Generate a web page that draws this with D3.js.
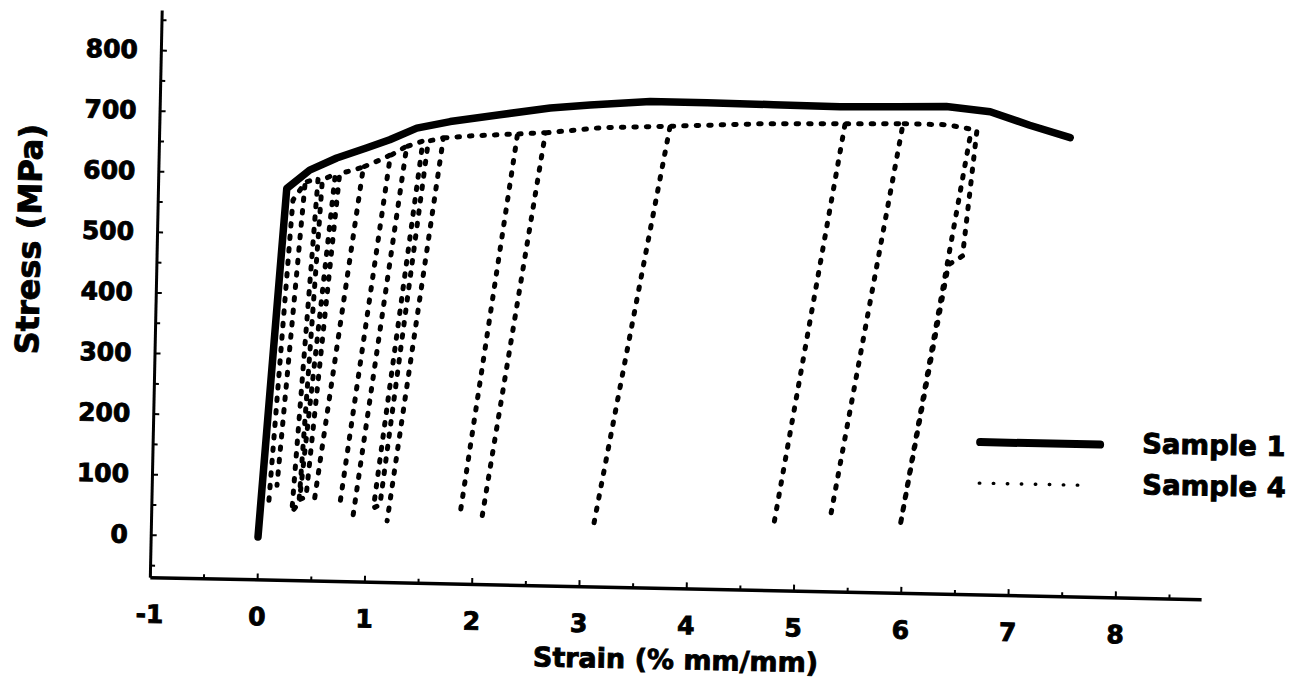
<!DOCTYPE html>
<html>
<head>
<meta charset="utf-8">
<script src="https://cdn.jsdelivr.net/npm/d3@7"></script>
<style>
  html, body { margin: 0; padding: 0; background: #fff; }
  svg { display: block; }
  text { font-family: "DejaVu Sans", "Liberation Sans", Arial, sans-serif; font-weight: bold; fill: #000; stroke: #000; stroke-width: 0.9px; }
</style>
</head>
<body>
<svg id="chart" width="1311" height="689"></svg>
<script>
// ---------------- data ----------------
const sample1Strain = [0, 0.20, 0.41, 0.66, 0.94, 1.15, 1.40, 1.71, 2.17, 2.64, 3.01, 3.57, 4.10, 4.72, 5.34, 5.87, 6.33, 6.74, 7.11, 7.49];
const sample1Stress = [0, 576, 607, 628, 646, 660, 680, 692, 705, 718, 724, 732, 732, 731, 730, 732, 734, 727, 706, 687];

// cyclic test: loading envelope with unload / reload loops (path order)
const sample4Strain = [0.095, 0.26, 0.37, 0.167, 0.39, 0.49, 0.31, 0.375, 0.53, 0.65, 0.38, 0.44, 0.69, 0.91, 0.52, 0.92,
  1.06, 1.16, 0.76, 1.17, 1.31, 0.88, 1.32, 1.46, 1.07, 1.13, 1.51, 1.65, 1.20, 1.66, 1.90, 2.34, 1.88, 2.35, 2.60, 2.08,
  2.61, 3.11, 3.76, 3.12, 3.77, 4.60, 5.39, 4.80, 5.40, 5.93, 5.33, 5.94, 6.34, 6.62, 6.51, 6.38, 5.98, 6.56];
const sample4Stress = [61, 557, 586, 86, 588, 594, 42, 58, 591, 602, 63, 68, 602, 614, 65, 615,
  626, 635, 62, 635, 650, 36, 650, 659, 52, 57, 659, 665, 31, 665, 669, 674, 47, 674, 677, 36,
  677, 687, 692, 26, 692, 699, 702, 34, 702, 704, 53, 704, 704, 696, 488, 473, 39, 688];

const seriesNames = ["Sample 1", "Sample 4"];
const xTickLabels = [-1, 0, 1, 2, 3, 4, 5, 6, 7, 8];
const xMinorTicks = [-0.5, 0.5, 1.5, 2.5, 3.5, 4.5, 5.5, 6.5, 7.5, 8.5];
const yTickLabels = [0, 100, 200, 300, 400, 500, 600, 700, 800];
const yMinorTicks = [-50, 50, 150, 250, 350, 450, 550, 650, 750, 850];
const xTitle = "Strain (% mm/mm)";
const yTitle = "Stress (MPa)";

// ---------------- layout ----------------
const svg = d3.select("#chart");
const x = d3.scaleLinear().domain([-1, 8.8]).range([150.7, 1202.2]);
const y = d3.scaleLinear().domain([-70, 866]).range([579.4, 12.2]);
const tilt = 1.2; // scanned page is slightly rotated

const g = svg.append("g").attr("transform", `rotate(${tilt},${x(0)},${y(0)})`);

// axes
const fmt = d => String(d);
const xAxis = d3.axisBottom(x).tickValues(xTickLabels).tickFormat(fmt)
  .tickSizeInner(-6).tickSizeOuter(0).tickPadding(28);
const xAxisMinor = d3.axisBottom(x).tickValues(xMinorTicks).tickFormat("")
  .tickSizeInner(-4).tickSizeOuter(0);
const yAxis = d3.axisLeft(y).tickValues(yTickLabels).tickFormat(fmt)
  .tickSizeInner(-6).tickSizeOuter(0).tickPadding(23);
const yAxisMinor = d3.axisLeft(y).tickValues(yMinorTicks).tickFormat("")
  .tickSizeInner(-5).tickSizeOuter(0);

function styleAxis(sel, w) {
  sel.select(".domain").attr("stroke", "#000").attr("stroke-width", w);
  sel.selectAll(".tick line").attr("stroke", "#000").attr("stroke-width", 2);
  sel.selectAll(".tick text").attr("font-size", 25).attr("font-weight", "bold")
     .attr("font-family", '"DejaVu Sans", sans-serif').attr("fill", "#000");
}

const gx = g.append("g").attr("transform", `translate(0,${y(-70)})`).call(xAxis);
styleAxis(gx, 3.5);
const gxm = g.append("g").attr("transform", `translate(0,${y(-70)})`).call(xAxisMinor);
styleAxis(gxm, 0); gxm.select(".domain").remove();

const gy = g.append("g").attr("transform", `translate(${x(-1)},0)`).call(yAxis);
styleAxis(gy, 3);
const gym = g.append("g").attr("transform", `translate(${x(-1)},0)`).call(yAxisMinor);
styleAxis(gym, 0); gym.select(".domain").remove();

// titles
g.append("text").attr("x", 678).attr("y", 651).attr("dy", "0.35em")
  .attr("text-anchor", "middle").attr("font-size", 27).text(xTitle);
g.append("text").attr("transform", "translate(23,244) rotate(-90)").attr("dy", "0.35em")
  .attr("text-anchor", "middle").attr("font-size", 32).text(yTitle);

// lines
const s1 = sample1Strain.map((d, i) => [d, sample1Stress[i]]);
const s4 = sample4Strain.map((d, i) => [d, sample4Stress[i]]);

// reload legs that retrace the unload leg exactly are not drawn twice
const s4Drawn = [];
for (let i = 0; i < s4.length; i++) {
  const retrace = i >= 2 &&
    Math.abs(s4[i][0] - s4[i - 2][0]) < 0.03 && Math.abs(s4[i][1] - s4[i - 2][1]) < 5;
  if (retrace) { s4Drawn.push(null); s4Drawn.push(s4[i]); }
  else s4Drawn.push(s4[i]);
}

const line = d3.line().defined(d => d !== null).x(d => x(d[0])).y(d => y(d[1]));

g.append("path").datum(s4Drawn).attr("d", line)
  .attr("fill", "none").attr("stroke", "#000").attr("stroke-width", 5)
  .attr("stroke-linecap", "round").attr("stroke-linejoin", "round")
  .attr("stroke-dasharray", "2.5 10");

g.append("path").datum(s1).attr("d", line)
  .attr("fill", "none").attr("stroke", "#000").attr("stroke-width", 7.5)
  .attr("stroke-linecap", "round").attr("stroke-linejoin", "round");

// legend
const leg = g.append("g");
leg.append("line").attr("x1", 978).attr("x2", 1098).attr("y1", 427).attr("y2", 427)
  .attr("stroke", "#000").attr("stroke-width", 8).attr("stroke-linecap", "round");
leg.append("line").attr("x1", 978).attr("x2", 1090).attr("y1", 468).attr("y2", 468)
  .attr("stroke", "#000").attr("stroke-width", 3.4).attr("stroke-linecap", "round")
  .attr("stroke-dasharray", "0.5 13.5");
leg.append("text").attr("x", 1140).attr("y", 425).attr("dy", "0.35em")
  .attr("font-size", 27.5).text(seriesNames[0]);
leg.append("text").attr("x", 1141).attr("y", 466).attr("dy", "0.35em")
  .attr("font-size", 27.5).text(seriesNames[1]);
</script>
</body>
</html>
